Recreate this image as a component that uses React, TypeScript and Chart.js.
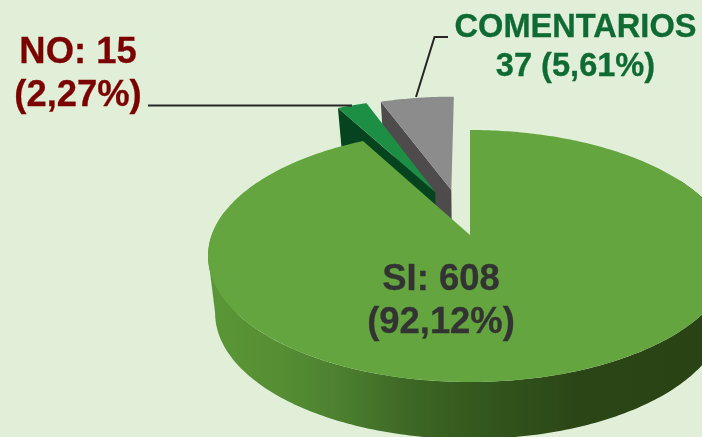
import React, { useEffect, useRef } from "react";
import { Chart, registerables } from "chart.js";

Chart.register(...registerables);

const categories = ["SI", "NO", "COMENTARIOS"];
const values = [608, 15, 37];
const labelSI = ["SI: 608", "(92,12%)"];
const labelNO = ["NO: 15", "(2,27%)"];
const labelCOM = ["COMENTARIOS", "37 (5,61%)"];

const topColors = ["#64a53f", "#1c8f45", "#8c8c8c"];
const wallColors = ["#4c8030", "#05441f", "#4e4b4d"];

// Perspective of the pie's plane
const CX = 470, CY = 235, A = 258.3, B = 122.5, K = 1 / 6, SHRINK = 0.973;
const explode: [number, number][] = [[0, 0], [-0.143, -0.373], [-0.077, -0.391]];

type P = [number, number];
const project = (u: number, v: number, base: boolean): P => {
  const w = 1 - K * v;
  let x = (A * u) / w;
  let y = CY + (B * v) / w;
  if (base) {
    x *= SHRINK;
    y += 57 - 14 * Math.max(0, -v);
  }
  return [CX + x, y];
};

const fillPoly = (ctx: CanvasRenderingContext2D, pts: P[], fill: string | CanvasGradient) => {
  ctx.beginPath();
  pts.forEach((p, i) => (i ? ctx.lineTo(p[0], p[1]) : ctx.moveTo(p[0], p[1])));
  ctx.closePath();
  ctx.fillStyle = fill;
  ctx.fill();
};

const rim = (a0: number, a1: number, off: [number, number], base: boolean, n = 200): P[] => {
  const out: P[] = [];
  for (let i = 0; i <= n; i++) {
    const t = a0 + ((a1 - a0) * i) / n;
    out.push(project(Math.cos(t) + off[0], Math.sin(t) + off[1], base));
  }
  return out;
};

const leftmost = (pts: P[]): P => pts.reduce((m, p) => (p[0] < m[0] ? p : m), pts[0]);

const drawText = (ctx: CanvasRenderingContext2D, lines: string[], cx: number, ys: number[], size: number, color: string) => {
  ctx.font = `bold ${size}px "Liberation Sans", Arial, sans-serif`;
  ctx.fillStyle = color;
  ctx.strokeStyle = color;
  ctx.lineWidth = 0.3;
  ctx.textAlign = "center";
  ctx.textBaseline = "alphabetic";
  lines.forEach((l, i) => {
    ctx.fillText(l, cx, ys[i]);
    ctx.strokeText(l, cx, ys[i]);
  });
};

const pie3d = {
  id: "pie3d",
  beforeDatasetDraw(chart: any) {
    const ctx: CanvasRenderingContext2D = chart.ctx;
    const arcs = chart.getDatasetMeta(0).data;
    ctx.save();

    // Small exploded slices, back to front
    [2, 1].forEach((i) => {
      const { startAngle, endAngle } = arcs[i];
      const off = explode[i];
      const ap = project(off[0], off[1], false);
      const apB = project(off[0], off[1], true);
      const c = project(Math.cos(startAngle) + off[0], Math.sin(startAngle) + off[1], false);
      const cB = project(Math.cos(startAngle) + off[0], Math.sin(startAngle) + off[1], true);
      fillPoly(ctx, [c, ap, apB, cB], wallColors[i]);
      fillPoly(ctx, [ap, ...rim(startAngle, endAngle, off, false, 30)], topColors[i]);
    });

    // Large slice: outer wall, then its top
    const { startAngle, endAngle } = arcs[0];
    const grad = ctx.createLinearGradient(208, 0, 702, 0);
    const stops: [number, string][] = [
      [215, "#5a9636"], [280, "#558e33"], [340, "#4c8030"], [400, "#3f6a26"],
      [470, "#345a1e"], [580, "#2b4516"], [702, "#2a4315"],
    ];
    stops.forEach(([x, col]) => grad.addColorStop((x - 208) / (702 - 208), col));
    const a0 = Math.max(startAngle, -0.5);
    const a1 = Math.min(endAngle, Math.PI + 0.2);
    const topEdge = rim(a0, a1, [0, 0], false, 240);
    const baseEdge = rim(a0, a1, [0, 0], true, 240).reverse();
    fillPoly(ctx, [...topEdge, ...baseEdge], grad);
    // silhouette edge joining the top rim to the base rim on the left
    const tl = leftmost(topEdge);
    const bl = leftmost(baseEdge);
    fillPoly(ctx, [tl, bl, [bl[0] + 40, bl[1]], [tl[0] + 40, tl[1]]], grad);
    fillPoly(ctx, [[CX, CY], ...rim(startAngle, endAngle, [0, 0], false, 400)], topColors[0]);

    ctx.restore();
    return false;
  },
  afterDatasetsDraw(chart: any) {
    const ctx: CanvasRenderingContext2D = chart.ctx;
    ctx.save();
    ctx.strokeStyle = "#262626";
    ctx.lineWidth = 2;
    ctx.beginPath();
    ctx.moveTo(148, 105.5);
    ctx.lineTo(352, 105.5);
    ctx.moveTo(448, 37);
    ctx.lineTo(434.5, 37);
    ctx.lineTo(416, 97);
    ctx.stroke();
    drawText(ctx, labelSI, 441, [290, 333], 36.4, "#333333");
    drawText(ctx, labelNO, 78, [63, 106], 36.4, "#7b0000");
    drawText(ctx, labelCOM, 575.5, [37, 76], 32.6, "#0f6b33");
    ctx.restore();
  },
};

export default function App() {
  const ref = useRef<HTMLCanvasElement>(null);
  useEffect(() => {
    document.body.style.margin = "0";
    document.body.style.background = "#e1efd8";
    const chart = new Chart(ref.current!, {
      type: "pie",
      data: {
        labels: categories,
        datasets: [{ data: values, backgroundColor: topColors, borderWidth: 0 }],
      },
      options: {
        animation: false,
        responsive: false,
        plugins: { legend: { display: false }, tooltip: { enabled: false } },
      },
      plugins: [pie3d],
    } as any);
    return () => chart.destroy();
  }, []);
  return (
    <canvas
      ref={ref}
      width={702}
      height={437}
      style={{ display: "block", width: 702, height: 437, background: "#e1efd8" }}
    />
  );
}
